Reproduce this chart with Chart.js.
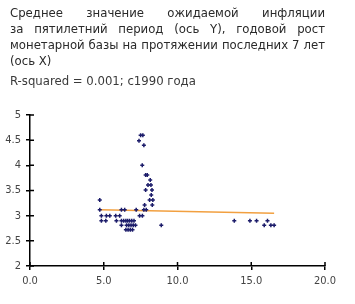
<!DOCTYPE html>
<html>
<head>
<meta charset="utf-8">
<script src="https://cdn.jsdelivr.net/npm/chart.js@4/dist/chart.umd.min.js"></script>
<style>
  html, body { margin: 0; padding: 0; background: #fff; }
  #wrap { position: relative; width: 355px; height: 304px; overflow: hidden; }
  #chart { position: absolute; left: 0; top: 0; }
  .title { position: absolute; left: 10px; width: 315px; font-family: "DejaVu Sans Condensed", "Liberation Sans Narrow", sans-serif; font-size: 13px; color: #2a2a2a; white-space: nowrap; }
  .title div { height: 16px; line-height: 16px; }
  .just { text-align: justify; text-align-last: justify; white-space: normal; }
  .sub { position: absolute; left: 10px; top: 73px; font-family: "DejaVu Sans Condensed", "Liberation Sans Narrow", sans-serif; font-size: 13px; color: #3a3a3a; }
</style>
</head>
<body>
<div id="wrap">
  <canvas id="chart" width="355" height="304"></canvas>
  <div class="title" style="top:5px">
    <div class="just">Среднее значение ожидаемой инфляции</div>
    <div class="just">за пятилетний период (ось Y), годовой рост</div>
    <div class="just">монетарной базы на протяжении последних 7 лет</div>
    <div>(ось X)</div>
  </div>
  <div class="sub">R-squared = 0.001; с1990 года</div>
</div>
<script>
// growth of monetary base, % (x) and expected 5-year inflation, % (y)
const growthX = [
  4.73, 4.73, 4.84, 5.18, 5.41, 5.81, 6.08,
  4.84, 5.14, 5.86, 6.2, 6.35, 6.5, 6.62, 6.75, 6.9, 7.05,
  6.2, 6.55, 6.7, 6.85, 7.0, 7.15,
  6.5, 6.65, 6.8, 6.95, 8.9,
  6.2, 6.42, 7.2, 7.72, 7.88,
  7.43, 7.62, 7.77, 8.29, 8.11, 8.33, 8.22,
  7.84, 8.27, 8.0, 8.2, 8.15, 7.84, 7.95,
  7.61, 7.72, 7.39, 7.5, 7.65,
  13.85, 14.91, 15.36, 16.1, 15.88, 16.33, 16.55
];
const inflationY = [
  3.31, 3.12, 3.0, 3.0, 3.0, 3.0, 3.0,
  2.9, 2.9, 2.9, 2.9, 2.9, 2.9, 2.9, 2.9, 2.9, 2.9,
  2.81, 2.81, 2.81, 2.81, 2.81, 2.81,
  2.72, 2.72, 2.72, 2.72, 2.81,
  3.12, 3.12, 3.12, 3.12, 3.12,
  3.0, 3.0, 3.21, 3.21, 3.31, 3.31, 3.41,
  3.51, 3.51, 3.61, 3.61, 3.71, 3.81, 3.81,
  4.0, 4.4, 4.49, 4.6, 4.6,
  2.9, 2.9, 2.9, 2.9, 2.81, 2.81, 2.81
];
const trendX = [4.73, 16.55];
const trendY = [3.12, 3.05];
const xTicks = [0, 5, 10, 15, 20];
const yTicks = [2, 2.5, 3, 3.5, 4, 4.5, 5];

// ticks crossing into the plot area, like the original
const innerTicks = {
  id: 'innerTicks',
  afterDraw(chart) {
    const { ctx, chartArea, scales } = chart;
    ctx.save();
    ctx.strokeStyle = '#000';
    ctx.lineWidth = 1.5;
    ctx.beginPath();
    yTicks.forEach((v) => {
      const y = scales.y.getPixelForValue(v);
      ctx.moveTo(chartArea.left, y);
      ctx.lineTo(chartArea.left + 4, y);
    });
    xTicks.forEach((v) => {
      const x = scales.x.getPixelForValue(v);
      ctx.moveTo(x, chartArea.bottom);
      ctx.lineTo(x, chartArea.bottom - 4);
    });
    ctx.stroke();
    ctx.restore();
  },
};

const tickFont = { family: '"DejaVu Sans Condensed", "Liberation Sans Narrow", sans-serif', size: 11 };

new Chart(document.getElementById('chart'), {
  type: 'scatter',
  data: {
    datasets: [
      {
        data: growthX.map((x, i) => ({ x, y: inflationY[i] })),
        pointStyle: 'cross',
        pointRadius: 2,
        borderColor: '#1c1c6a',
        borderWidth: 1.5,
        order: 1,
      },
      {
        type: 'line',
        data: trendX.map((x, i) => ({ x, y: trendY[i] })),
        borderColor: '#f2a040',
        borderWidth: 1.5,
        pointRadius: 0,
        fill: false,
        order: 2,
      },
    ],
  },
  options: {
    responsive: false,
    animation: false,
    layout: { padding: { top: 115, right: 30, left: 0, bottom: 0 } },
    plugins: { legend: { display: false }, tooltip: { enabled: false } },
    scales: {
      x: {
        type: 'linear',
        min: 0,
        max: 20,
        afterBuildTicks: (s) => { s.ticks = xTicks.map((v) => ({ value: v })); },
        afterFit: (s) => { s.height = 38; },
        ticks: { color: '#444', font: tickFont, padding: 5, callback: (v) => v.toFixed(1) },
        grid: { display: true, drawOnChartArea: false, tickLength: 4, color: '#000', lineWidth: 1.5 },
        border: { color: '#000', width: 1.5 },
      },
      y: {
        min: 2,
        max: 5,
        afterBuildTicks: (s) => { s.ticks = yTicks.map((v) => ({ value: v })); },
        afterFit: (s) => { s.width = 30; },
        ticks: { color: '#444', font: tickFont, padding: 5, callback: (v) => String(v) },
        grid: { display: true, drawOnChartArea: false, tickLength: 4, color: '#000', lineWidth: 1.5 },
        border: { color: '#000', width: 1.5 },
      },
    },
  },
  plugins: [innerTicks],
});
</script>
</body>
</html>
